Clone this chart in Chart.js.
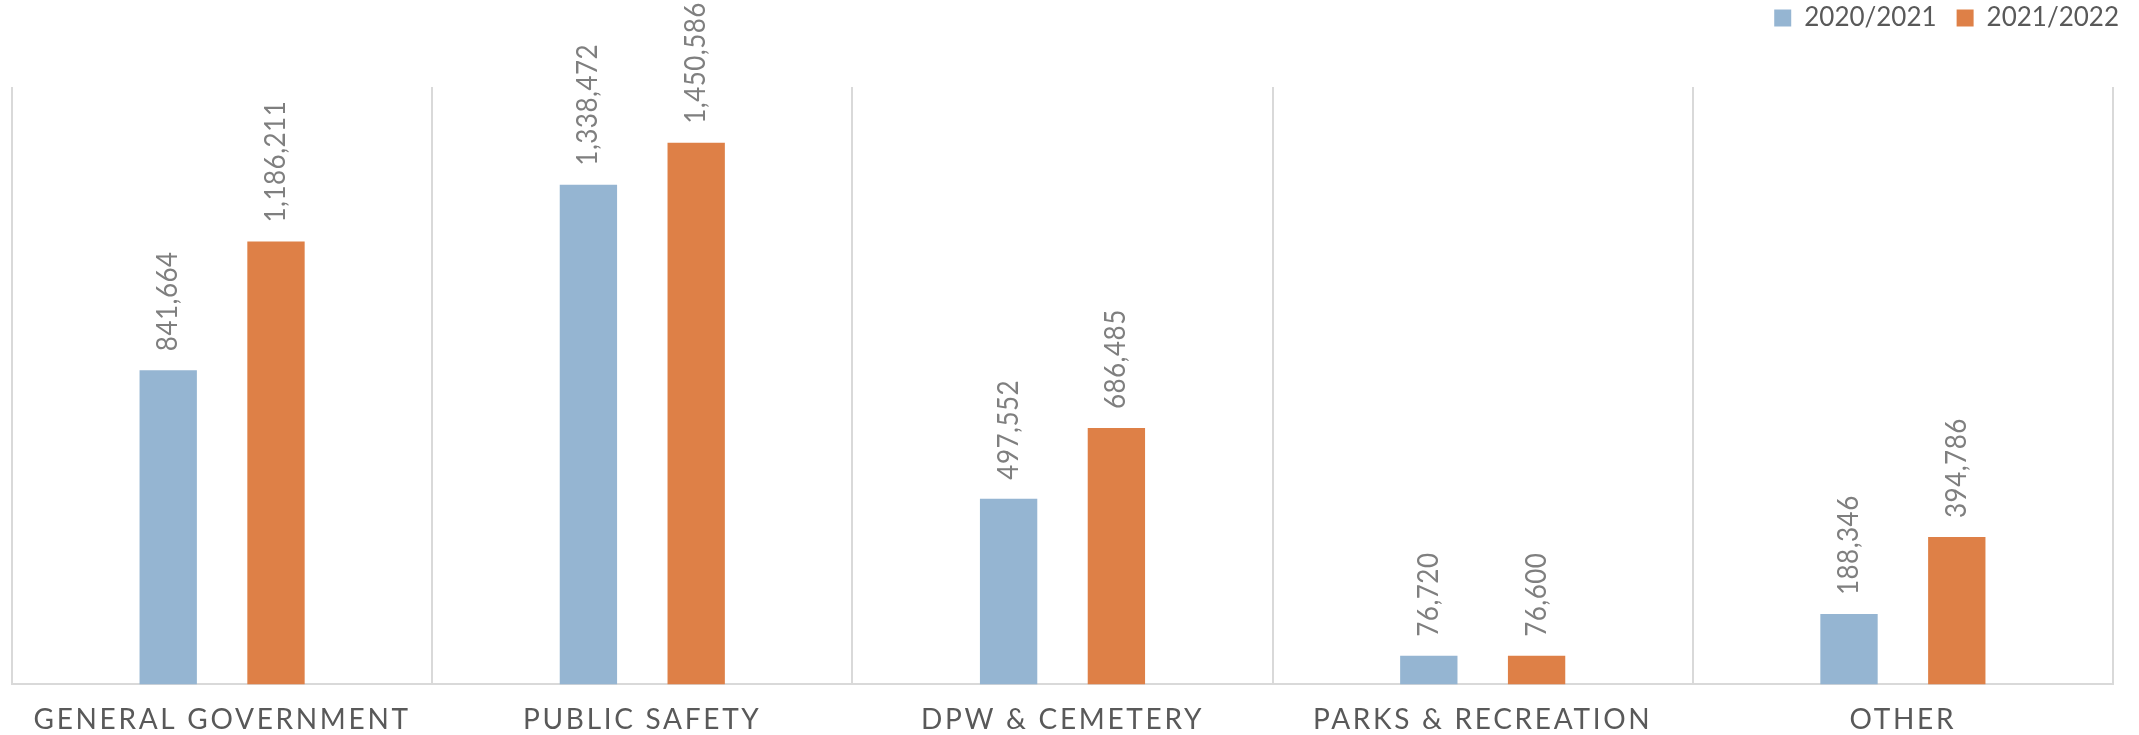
<!DOCTYPE html>
<html>
<head>
<meta charset="utf-8">
<script src="https://cdn.jsdelivr.net/npm/chart.js@4"></script>
<style>
  html, body { margin: 0; padding: 0; background: #fff; }
</style>
</head>
<body>
<canvas id="grafico" width="2139" height="735"></canvas>
<script>
const categorias = ['GENERAL GOVERNMENT', 'PUBLIC SAFETY', 'DPW & CEMETERY', 'PARKS & RECREATION', 'OTHER'];
const series = ['2020/2021', '2021/2022'];
const valores2021 = [841664, 1338472, 497552, 76720, 188346];
const valores2022 = [1186211, 1450586, 686485, 76600, 394786];
const cores = ['#95B5D2', '#DE8047'];

const canvas = document.getElementById('grafico');

function formatarValor(num) {
  return Number(num).toLocaleString('en-US');
}

// espaçamento das letras nos eixos; a legenda fica sem espaçamento e sobe para o canto
const ajusteTexto = {
  id: 'ajusteTexto',
  beforeDraw(chart) {
    chart.ctx.letterSpacing = '2.7px';
    const leg = chart.legend;
    if (leg && !leg._ajustado) {
      const desenhar = leg.draw.bind(leg);
      leg.draw = function (...args) {
        const c = this.ctx;
        c.save();
        c.letterSpacing = '0px';
        c.translate(26, -46);
        desenhar(...args);
        c.restore();
      };
      leg._ajustado = true;
    }
  }
};

// rótulos girados acima de cada barra
const rotuloBarras = {
  id: 'rotuloBarras',
  afterDatasetsDraw(chart) {
    const c = chart.ctx;
    c.save();
    c.font = '28px Lato';
    c.letterSpacing = '0.5px';
    c.fillStyle = '#7f7f7f';
    c.textAlign = 'left';
    c.textBaseline = 'middle';
    chart.data.datasets.forEach((ds, i) => {
      chart.getDatasetMeta(i).data.forEach((barra, j) => {
        c.save();
        c.translate(barra.x, barra.y - 19);
        c.rotate(-Math.PI / 2);
        c.scale(0.93, 1);
        c.fillText(formatarValor(ds.data[j]), 0, 0);
        c.restore();
      });
    });
    c.restore();
  }
};

new Chart(canvas, {
  type: 'bar',
  data: {
    labels: categorias,
    datasets: [
      { label: series[0], data: valores2021, backgroundColor: cores[0] },
      { label: series[1], data: valores2022, backgroundColor: cores[1] }
    ]
  },
  options: {
    responsive: false,
    animation: false,
    devicePixelRatio: 1,
    layout: { padding: { left: 12, right: 26, top: 31, bottom: -21 } },
    datasets: {
      bar: { categoryPercentage: 0.513, barPercentage: 0.532 }
    },
    scales: {
      x: {
        offset: true,
        grid: { offset: true, color: '#d9d9d9', lineWidth: 2, drawTicks: false },
        border: { color: '#d9d9d9', width: 2 },
        ticks: { color: '#595959', font: { family: 'Lato', size: 28 }, padding: 19, maxRotation: 0 }
      },
      y: {
        display: false,
        min: 0,
        max: 1600000
      }
    },
    plugins: {
      legend: {
        position: 'top',
        align: 'end',
        labels: {
          boxWidth: 17,
          boxHeight: 17,
          padding: 20,
          color: '#595959',
          font: { family: 'Lato', size: 26 }
        }
      },
      tooltip: { enabled: false }
    }
  },
  plugins: [ajusteTexto, rotuloBarras]
});
</script>
</body>
</html>
